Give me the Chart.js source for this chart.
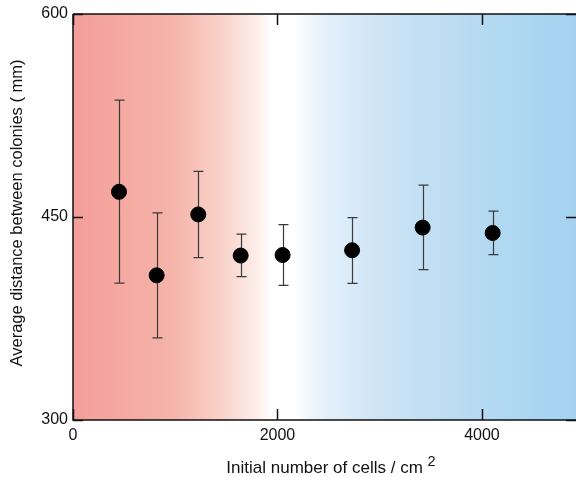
<!DOCTYPE html>
<html>
<head>
<meta charset="utf-8">
<script src="https://cdn.jsdelivr.net/npm/chart.js@4/dist/chart.umd.min.js"></script>
<style>
  html, body { margin: 0; padding: 0; background: #fff; overflow: hidden; }
  #wrap { width: 576px; height: 477px; position: relative; }
</style>
</head>
<body>
<div id="wrap"><canvas id="c"></canvas></div>
<script>
// data
const cells = [450, 818, 1225, 1640, 2050, 2730, 3420, 4105];
const distance = [468.6, 406.9, 451.9, 421.5, 421.9, 425.4, 442.2, 438.2];
const errHigh = [536.3, 453.0, 483.7, 437.3, 444.4, 449.6, 473.6, 454.3];
const errLow = [401.2, 360.7, 420.0, 405.9, 399.5, 401.0, 411.1, 422.2];
const xTicks = [0, 2000, 4000];
const yTicks = [300, 450, 600];

const font = "'Liberation Sans', Arial, sans-serif";

// red -> white -> blue background behind the plot
const bgPlugin = {
  id: 'bg',
  beforeDraw(chart) {
    const { ctx, chartArea: a } = chart;
    const g = ctx.createLinearGradient(a.left, 0, a.right, 0);
    g.addColorStop(0, 'rgb(244,158,152)');
    g.addColorStop(0.2, 'rgb(245,180,170)');
    g.addColorStop(0.3, 'rgb(249,212,203)');
    g.addColorStop(0.37, 'rgb(253,240,236)');
    g.addColorStop(0.395, 'rgb(255,255,255)');
    g.addColorStop(0.44, 'rgb(255,255,255)');
    g.addColorStop(0.5, 'rgb(228,240,250)');
    g.addColorStop(0.62, 'rgb(204,227,245)');
    g.addColorStop(0.8, 'rgb(182,218,242)');
    g.addColorStop(1, 'rgb(163,210,240)');
    ctx.save();
    ctx.fillStyle = g;
    ctx.fillRect(a.left, a.top, a.right - a.left, a.bottom - a.top);
    ctx.restore();
  }
};

// axis lines, inward ticks, error bars, axis titles
const axesPlugin = {
  id: 'axes',
  beforeDatasetsDraw(chart) {
    const { ctx, scales: { x, y } } = chart;
    ctx.save();
    ctx.strokeStyle = '#3a3a3a';
    ctx.lineWidth = 1.2;
    ctx.beginPath();
    cells.forEach((c, i) => {
      const px = Math.round(x.getPixelForValue(c)) + 0.5;
      const top = y.getPixelForValue(errHigh[i]);
      const bot = y.getPixelForValue(errLow[i]);
      ctx.moveTo(px, top); ctx.lineTo(px, bot);
      ctx.moveTo(px - 5, top); ctx.lineTo(px + 5, top);
      ctx.moveTo(px - 5, bot); ctx.lineTo(px + 5, bot);
    });
    ctx.stroke();
    ctx.restore();
  },
  afterDatasetsDraw(chart) {
    const { ctx, chartArea: a, scales: { x, y } } = chart;
    ctx.save();
    ctx.strokeStyle = '#111';
    ctx.lineWidth = 1.5;
    ctx.beginPath();
    ctx.moveTo(a.left, a.top); ctx.lineTo(a.right + 5, a.top);
    ctx.moveTo(a.left, a.top); ctx.lineTo(a.left, a.bottom);
    ctx.lineTo(a.right + 5, a.bottom);
    ctx.stroke();

    ctx.beginPath();
    xTicks.forEach(v => {
      const px = Math.round(x.getPixelForValue(v)) + 0.5;
      ctx.moveTo(px, a.bottom); ctx.lineTo(px, a.bottom - 11);
      ctx.moveTo(px, a.top); ctx.lineTo(px, a.top + 11);
    });
    yTicks.forEach(v => {
      const py = Math.round(y.getPixelForValue(v)) + 0.5;
      ctx.moveTo(a.left, py); ctx.lineTo(a.left + 10, py);
      ctx.moveTo(a.right, py); ctx.lineTo(a.right - 10, py);
    });
    ctx.stroke();

    ctx.fillStyle = '#111';
    ctx.textBaseline = 'alphabetic';
    ctx.textAlign = 'left';
    ctx.font = '17px ' + font;
    const t = 'Initial number of cells / cm ';
    const w = ctx.measureText(t).width;
    ctx.font = '14.5px ' + font;
    const w2 = ctx.measureText('2').width;
    const sx = 331 - (w + w2) / 2;
    ctx.font = '17px ' + font;
    ctx.fillText(t, sx, 473);
    ctx.font = '14.5px ' + font;
    ctx.fillText('2', sx + w, 466);

    ctx.font = '16.5px ' + font;
    ctx.translate(22, 213);
    ctx.rotate(-Math.PI / 2);
    ctx.textAlign = 'center';
    ctx.fillText('Average distance between colonies ( mm)', 0, 0);
    ctx.restore();
  }
};

new Chart(document.getElementById('c'), {
  type: 'scatter',
  data: {
    datasets: [{
      data: cells.map((c, i) => ({ x: c, y: distance[i] })),
      backgroundColor: '#000',
      borderColor: '#000',
      pointRadius: 7.5,
      pointHoverRadius: 7.5
    }]
  },
  options: {
    responsive: true,
    maintainAspectRatio: false,
    animation: false,
    events: [],
    layout: { autoPadding: false, padding: { top: 14, right: 0, left: 0, bottom: 0 } },
    plugins: { legend: { display: false }, tooltip: { enabled: false } },
    scales: {
      x: {
        type: 'linear', min: 0, max: 4920,
        afterBuildTicks(s) { s.ticks = xTicks.map(v => ({ value: v })); },
        afterFit(s) { s.height = 57; s.paddingLeft = 0; s.paddingRight = 0; },
        grid: { display: false, drawTicks: false },
        border: { display: false },
        ticks: {
          color: '#111', font: { family: font, size: 16 }, padding: 6, maxRotation: 0,
          callback: v => String(v)
        }
      },
      y: {
        type: 'linear', min: 300, max: 600,
        afterBuildTicks(s) { s.ticks = yTicks.map(v => ({ value: v })); },
        afterFit(s) { s.width = 73; s.paddingTop = 0; s.paddingBottom = 0; },
        grid: { display: false, drawTicks: false },
        border: { display: false },
        ticks: { color: '#111', font: { family: font, size: 16 }, padding: 5 }
      }
    }
  },
  plugins: [bgPlugin, axesPlugin]
});
</script>
</body>
</html>
